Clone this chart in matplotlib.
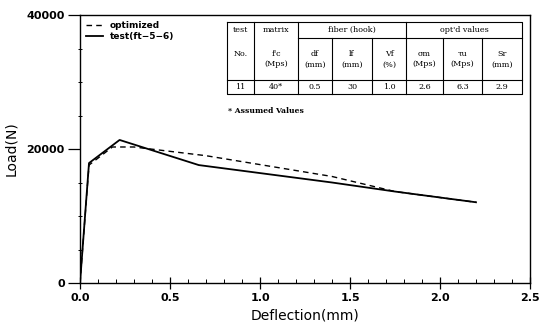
import matplotlib
matplotlib.use("Agg")
import matplotlib.pyplot as plt
from matplotlib.ticker import MultipleLocator

# ---- data ----
opt_x = [0.0, 0.05, 0.18, 0.30, 0.70, 1.40, 1.75, 2.20]
opt_y = [0, 17600, 20300, 20300, 19000, 15900, 13650, 12050]
test_x = [0.0, 0.05, 0.22, 0.66, 1.40, 1.75, 2.20]
test_y = [0, 17900, 21350, 17600, 15000, 13650, 12050]

legend_labels = ["optimized", "test(ft\u22125\u22126)"]
x_ticks = [0.0, 0.5, 1.0, 1.5, 2.0, 2.5]
x_ticklabels = ["0.0", "0.5", "1.0", "1.5", "2.0", "2.5"]
y_ticks = [0, 20000, 40000]
y_ticklabels = ["0", "20000", "40000"]

table_head1 = ["test", "matrix", "fiber (hook)", "opt'd values"]
table_head2 = ["No.", "f'c\n(Mps)", "df\n(mm)", "lf\n(mm)", "Vf\n(%)",
               "\u03c3m\n(Mps)", "\u03c4u\n(Mps)", "Sr\n(mm)"]
table_row = ["11", "40*", "0.5", "30", "1.0", "2.6", "6.3", "2.9"]
note_text = "* Assumed Values"

# ---- figure ----
fig = plt.figure(figsize=(5.39, 3.28), dpi=100)
ax = fig.add_axes([80/539, 45/328, 450/539, 268/328])

ax.plot(opt_x, opt_y, color="black", lw=1.0, ls=(0, (4, 3)), label=legend_labels[0])
ax.plot(test_x, test_y, color="black", lw=1.3, ls="-", label=legend_labels[1])

ax.set_xlim(0, 2.5)
ax.set_ylim(0, 40000)
ax.set_xticks(x_ticks)
ax.set_xticklabels(x_ticklabels, fontsize=8, fontweight="bold", family="DejaVu Sans")
ax.set_yticks(y_ticks)
ax.set_yticklabels(y_ticklabels, fontsize=8, fontweight="bold", family="DejaVu Sans")
ax.xaxis.set_minor_locator(MultipleLocator(0.1))
ax.yaxis.set_minor_locator(MultipleLocator(5000))
ax.tick_params(axis="x", which="major", direction="inout", length=8, width=0.9, pad=3)
ax.tick_params(axis="x", which="minor", direction="in", length=3, width=0.7)
ax.tick_params(axis="y", which="major", direction="out", length=9, width=0.9, pad=2)
ax.tick_params(axis="y", which="minor", direction="inout", length=3, width=0.7)
for s in ax.spines.values():
    s.set_linewidth(1.0)

ax.set_xlabel("Deflection(mm)", fontsize=10, labelpad=4)
ax.set_ylabel("Load(N)", fontsize=10, labelpad=6)

leg = ax.legend(loc="upper left", frameon=False, fontsize=6.5, handlelength=1.8,
                handletextpad=0.8, borderaxespad=0.3, labelspacing=0.2,
                prop={"weight": "bold", "size": 6.5})

# ---- table drawn in axes coordinates ----
X0, Xw = 80.0, 450.0
Y0, Yh = 283.0, 268.0
def ax_x(px):
    return (px - X0) / Xw
def ax_y(py):
    return (Y0 - py) / Yh

cols = [227, 254, 298, 332, 372, 406, 443, 482, 522]
rows = [22, 38, 80, 94]
tr = ax.transAxes
lkw = dict(color="black", lw=0.8, transform=tr, clip_on=False)

# outer frame
ax.plot([ax_x(cols[0]), ax_x(cols[-1]), ax_x(cols[-1]), ax_x(cols[0]), ax_x(cols[0])],
        [ax_y(rows[0]), ax_y(rows[0]), ax_y(rows[-1]), ax_y(rows[-1]), ax_y(rows[0])], **lkw)
# line under group headers (fiber / opt'd)
ax.plot([ax_x(cols[2]), ax_x(cols[-1])], [ax_y(rows[1]), ax_y(rows[1])], **lkw)
# line above data row
ax.plot([ax_x(cols[0]), ax_x(cols[-1])], [ax_y(rows[2]), ax_y(rows[2])], **lkw)
# full-height vertical separators
for c in [cols[1], cols[2], cols[5]]:
    ax.plot([ax_x(c), ax_x(c)], [ax_y(rows[0]), ax_y(rows[-1])], **lkw)
# partial vertical separators (below group header)
for c in [cols[3], cols[4], cols[6], cols[7]]:
    ax.plot([ax_x(c), ax_x(c)], [ax_y(rows[1]), ax_y(rows[-1])], **lkw)

tkw = dict(transform=tr, ha="center", va="center", fontsize=5.8,
           family="DejaVu Serif", linespacing=1.5)
def cx(i, j=None):
    j = i + 1 if j is None else j
    return ax_x((cols[i] + cols[j]) / 2)

ax.text(cx(0), ax_y(30), table_head1[0], **tkw)
ax.text(cx(1), ax_y(30), table_head1[1], **tkw)
ax.text(cx(2, 5), ax_y(30), table_head1[2], **tkw)
ax.text(cx(5, 8), ax_y(30), table_head1[3], **tkw)
ax.text(cx(0), ax_y(54), table_head2[0], **tkw)
for i in range(1, 8):
    ax.text(cx(i), ax_y(59), table_head2[i], **tkw)
for i in range(8):
    ax.text(cx(i), ax_y(87), table_row[i], **tkw)

ax.text(ax_x(228), ax_y(111), note_text, transform=tr, ha="left", va="center",
        fontsize=5.5, fontweight="bold", family="DejaVu Serif")

fig.savefig("out.png", dpi=100)
